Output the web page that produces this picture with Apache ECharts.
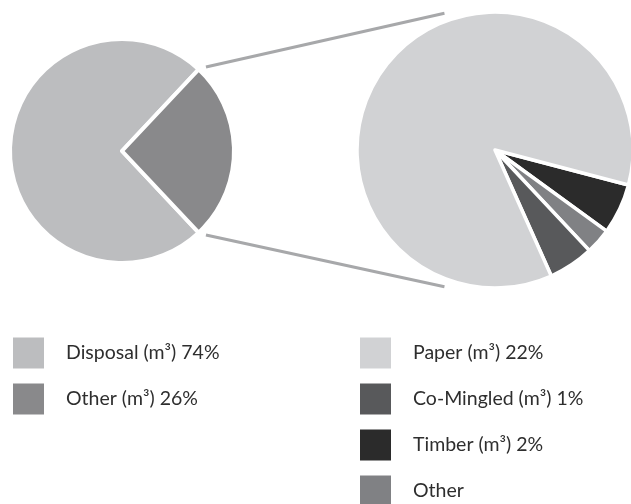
<!DOCTYPE html>
<html>
<head>
<meta charset="utf-8">
<script src="https://cdn.jsdelivr.net/npm/echarts@6/dist/echarts.min.js"></script>
<style>
html,body{margin:0;padding:0;background:#fff;}
#chart{width:631px;height:504px;}
</style>
</head>
<body>
<div id="chart"></div>
<script>
// Left pie: overall split
const leftNames = ['Disposal (m³) 74%', 'Other (m³) 26%'];
const leftValues = [74, 26];
const leftColors = ['#bcbdbf', '#89898b'];

// Right pie: breakdown of "Other" (legend order)
const rightNames = ['Paper (m³) 22%', 'Co-Mingled (m³) 1%', 'Timber (m³) 2%', 'Other'];
const rightValues = [22.3, 1.38, 1.54, 0.78];
const rightColors = ['#d1d2d4', '#58595b', '#2b2b2b', '#808184'];
// order in which slices are drawn clockwise
const rightDrawOrder = [2, 3, 1, 0];

const FONT = 'Lato, "Open Sans", sans-serif';

const leftCenter = [122, 151], leftR = 112;
const rightCenter = [495, 150], rightR = 138;

const leftTotal = leftValues.reduce((a, b) => a + b, 0);
const otherHalf = leftValues[1] / leftTotal * 180;

const chart = echarts.init(document.getElementById('chart'));

function pt(c, r, deg) {
  const a = deg * Math.PI / 180;
  return [c[0] + r * Math.cos(a), c[1] - r * Math.sin(a)];
}
const lA = 45, rA = 110.3;
const p1 = pt(leftCenter, leftR * 1.06, lA), p2 = pt(rightCenter, rightR * 1.056, rA);
const p3 = pt(leftCenter, leftR * 1.06, -lA), p4 = pt(rightCenter, rightR * 1.056, -rA);

const legendCommon = {
  orient: 'vertical',
  icon: 'rect',
  itemWidth: 33,
  itemHeight: 33,
  itemGap: 11,
  padding: 0,
  height: 200,
  selectedMode: false,
  textStyle: { fontFamily: FONT, fontSize: 19.5, lineHeight: 20, color: '#2e2e2e', padding: [0, 0, 0, 16] }
};

chart.setOption({
  animation: false,
  backgroundColor: '#fff',
  legend: [
    Object.assign({}, legendCommon, { left: 11, top: 335.5, data: leftNames }),
    Object.assign({}, legendCommon, { left: 358, top: 335.5, data: rightNames })
  ],
  graphic: [
    { type: 'line', shape: { x1: p1[0], y1: p1[1], x2: p2[0], y2: p2[1] }, style: { stroke: '#a7a8aa', lineWidth: 3 }, silent: true },
    { type: 'line', shape: { x1: p3[0], y1: p3[1], x2: p4[0], y2: p4[1] }, style: { stroke: '#a7a8aa', lineWidth: 3 }, silent: true }
  ],
  series: [
    {
      type: 'pie',
      center: leftCenter,
      radius: leftR,
      startAngle: 360 - otherHalf,
      clockwise: true,
      label: { show: false },
      labelLine: { show: false },
      emphasis: { disabled: true },
      silent: true,
      itemStyle: { borderColor: '#fff', borderWidth: 4 },
      data: leftNames.map((n, i) => ({ name: n, value: leftValues[i], itemStyle: { color: leftColors[i] } }))
    },
    {
      type: 'pie',
      center: rightCenter,
      radius: rightR,
      startAngle: 345.3,
      clockwise: true,
      label: { show: false },
      labelLine: { show: false },
      emphasis: { disabled: true },
      silent: true,
      itemStyle: { borderColor: '#fff', borderWidth: 3.5 },
      data: rightDrawOrder.map(i => ({ name: rightNames[i], value: rightValues[i], itemStyle: { color: rightColors[i] } }))
    }
  ]
});
</script>
</body>
</html>
